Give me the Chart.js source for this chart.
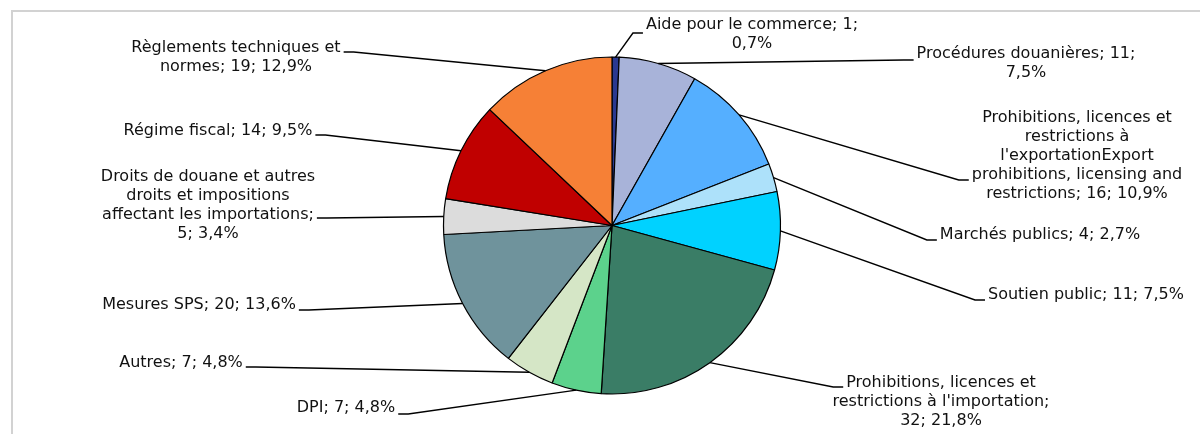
<!DOCTYPE html>
<html>
<head>
<meta charset="utf-8">
<script src="https://cdn.jsdelivr.net/npm/chart.js@4.4.1/dist/chart.umd.min.js"></script>
<style>
    html, body { margin: 0; padding: 0; background: #fff; }
    #wrap { width: 1200px; height: 434px; position: relative; }
</style>
</head>
<body>
<div id="wrap"><canvas id="mesuresChart"></canvas></div>
<script>
const categories = [
    'Aide pour le commerce',
    'Procédures douanières',
    "Prohibitions, licences et restrictions à l'exportationExport prohibitions, licensing and restrictions",
    'Marchés publics',
    'Soutien public',
    "Prohibitions, licences et restrictions à l'importation",
    'DPI',
    'Autres',
    'Mesures SPS',
    'Droits de douane et autres droits et impositions affectant les importations',
    'Régime fiscal',
    'Règlements techniques et normes'
];
const counts = [1, 11, 16, 4, 11, 32, 7, 7, 20, 5, 14, 19];
const percentLabels = ['0,7%', '7,5%', '10,9%', '2,7%', '7,5%', '21,8%', '4,8%', '4,8%', '13,6%', '3,4%', '9,5%', '12,9%'];

const sliceColors = ['#2B3990', '#A8B3D9', '#55AFFF', '#ADE1FA', '#00D2FF', '#3A7D66',
                     '#5CD28C', '#D5E6C6', '#6F939C', '#DCDCDC', '#C00000', '#F68036'];

// wrapped label text, one entry per slice
const labelLines = [
    ['Aide pour le commerce; 1;', '0,7%'],
    ['Procédures douanières; 11;', '7,5%'],
    ['Prohibitions, licences et', 'restrictions à', "l'exportationExport", 'prohibitions, licensing and', 'restrictions; 16; 10,9%'],
    ['Marchés publics; 4; 2,7%'],
    ['Soutien public; 11; 7,5%'],
    ['Prohibitions, licences et', "restrictions à l'importation;", '32; 21,8%'],
    ['DPI; 7; 4,8%'],
    ['Autres; 7; 4,8%'],
    ['Mesures SPS; 20; 13,6%'],
    ['Droits de douane et autres', 'droits et impositions', 'affectant les importations;', '5; 3,4%'],
    ['Régime fiscal; 14; 9,5%'],
    ['Règlements techniques et', 'normes; 19; 12,9%']
];

// label placement: block centre x, first line centre y, side the leader joins, leader y
const labelPlace = [
    {x: 752,  y: 25,  side: 'left',  ly: 33},
    {x: 1026, y: 54,  side: 'left',  ly: 60},
    {x: 1077, y: 118, side: 'left',  ly: 180},
    {x: 1040, y: 235, side: 'left',  ly: 240},
    {x: 1086, y: 295, side: 'left',  ly: 300},
    {x: 941,  y: 383, side: 'left',  ly: 387},
    {x: 346,  y: 408, side: 'right', ly: 414},
    {x: 181,  y: 363, side: 'right', ly: 367},
    {x: 199,  y: 305, side: 'right', ly: 310},
    {x: 208,  y: 177, side: 'right', ly: 218},
    {x: 218,  y: 131, side: 'right', ly: 135},
    {x: 236,  y: 48,  side: 'right', ly: 52}
];

const lineHeight = 19;
const labelFont = '16px "DejaVu Sans", Verdana, sans-serif';

const framePlugin = {
    id: 'frame',
    beforeDraw(chart) {
        const ctx = chart.ctx;
        ctx.save();
        ctx.strokeStyle = '#d2d2d2';
        ctx.lineWidth = 2;
        ctx.strokeRect(12, 11, 1300, 600);
        ctx.restore();
    }
};

const leaderLabels = {
    id: 'leaderLabels',
    afterDatasetsDraw(chart) {
        const ctx = chart.ctx;
        const arcs = chart.getDatasetMeta(0).data;
        ctx.save();
        ctx.font = labelFont;
        ctx.fillStyle = '#111';
        ctx.textAlign = 'center';
        ctx.textBaseline = 'middle';
        ctx.strokeStyle = '#000';
        ctx.lineWidth = 1.4;

        arcs.forEach((arc, i) => {
            const lines = labelLines[i];
            const p = labelPlace[i];
            lines.forEach((t, k) => ctx.fillText(t, p.x, p.y + k * lineHeight));

            // line of the block closest to the leader height
            let k = Math.round((p.ly - p.y) / lineHeight);
            k = Math.max(0, Math.min(lines.length - 1, k));
            const w = ctx.measureText(lines[k]).width;
            const dir = p.side === 'left' ? -1 : 1;
            const endX = p.x + dir * (w / 2 + 3);
            const elbowX = endX + dir * 10;

            const mid = (arc.startAngle + arc.endAngle) / 2;
            const sx = arc.x + Math.cos(mid) * arc.outerRadius;
            const sy = arc.y + Math.sin(mid) * arc.outerRadius;

            ctx.beginPath();
            ctx.moveTo(sx, sy);
            ctx.lineTo(elbowX, p.ly);
            ctx.lineTo(endX, p.ly);
            ctx.stroke();
        });
        ctx.restore();
    }
};

const ctx = document.getElementById('mesuresChart').getContext('2d');
const mesuresChart = new Chart(ctx, {
    type: 'pie',
    plugins: [framePlugin, leaderLabels],
    data: {
        labels: categories,
        datasets: [{
            data: counts,
            backgroundColor: sliceColors,
            borderColor: '#000',
            borderWidth: 1.2
        }]
    },
    options: {
        responsive: true,
        maintainAspectRatio: false,
        animation: false,
        radius: 168.5,
        layout: {
            padding: {left: 24, right: 0, top: 17, bottom: 0}
        },
        plugins: {
            legend: {display: false},
            tooltip: {enabled: false}
        }
    }
});
</script>
</body>
</html>
